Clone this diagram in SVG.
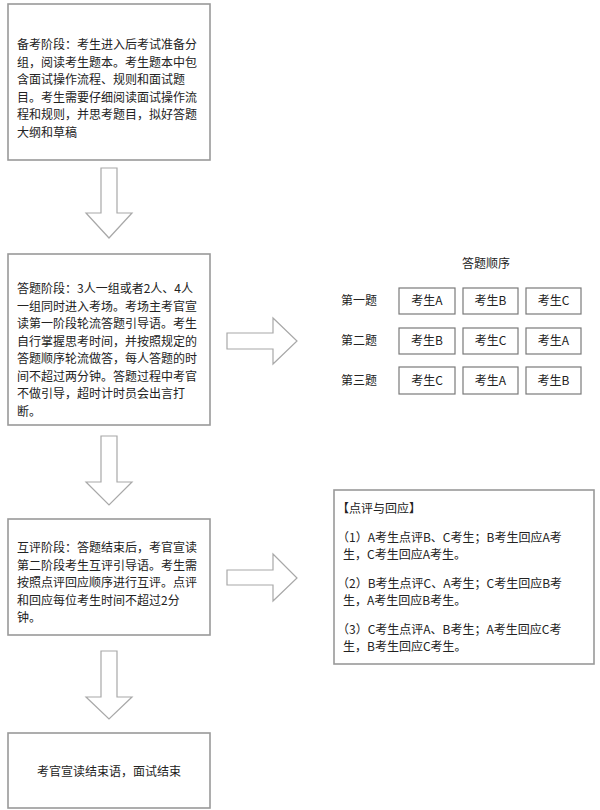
<svg xmlns="http://www.w3.org/2000/svg" width="600" height="810" viewBox="0 0 600 810">
<style>
  .box { fill: #ffffff; stroke: #999999; stroke-width: 1.6; }
  .cell { fill: #ffffff; stroke: #7a7a7a; stroke-width: 1.2; }
  .arrow { fill: #ffffff; stroke: #a8a8a8; stroke-width: 1.2; stroke-linejoin: miter; }
  text { font-family: "Noto Sans CJK SC", "Noto Sans", sans-serif; font-size: 12px; fill: #222222; text-spacing-trim: space-all; }
  .c { text-anchor: middle; }
</style>
<rect width="600" height="810" fill="#ffffff"/>

<g id="connectors">
  <polygon class="arrow" points="101,168 117,168 117,213 132,213 109,238 86,213 101,213"/>
  <polygon class="arrow" points="101,436 117,436 117,482 132,482 109,505 86,482 101,482"/>
  <polygon class="arrow" points="101,651 117,651 117,697 132,697 109,719 86,697 101,697"/>
  <polygon class="arrow" points="227,333 273,333 273,318 297,341 273,364 273,349 227,349"/>
  <polygon class="arrow" points="227,570 273,570 273,554 297,578 273,601 273,585 227,585"/>
</g>

<g id="node-prep">
  <rect class="box" x="8" y="4" width="202" height="156"/>
  <text x="17" y="49">备考阶段：考生进入后考试准备分</text>
  <text x="17" y="66.5">组，阅读考生题本。考生题本中包</text>
  <text x="17" y="84">含面试操作流程、规则和面试题</text>
  <text x="17" y="101.5">目。考生需要仔细阅读面试操作流</text>
  <text x="17" y="119">程和规则，并思考题目，拟好答题</text>
  <text x="17" y="136.5">大纲和草稿</text>
</g>

<g id="node-answer">
  <rect class="box" x="8" y="254" width="202" height="171"/>
  <text x="17" y="293">答题阶段：3人一组或者2人、4人</text>
  <text x="17" y="310.5">一组同时进入考场。考场主考官宣</text>
  <text x="17" y="328">读第一阶段轮流答题引导语。考生</text>
  <text x="17" y="345.5">自行掌握思考时间，并按照规定的</text>
  <text x="17" y="363">答题顺序轮流做答，每人答题的时</text>
  <text x="17" y="380.5">间不超过两分钟。答题过程中考官</text>
  <text x="17" y="398">不做引导，超时计时员会出言打</text>
  <text x="17" y="415.5">断。</text>
</g>

<g id="node-order">
  <text class="c" x="486" y="268">答题顺序</text>
  <text class="c" x="359" y="305">第一题</text>
  <text class="c" x="359" y="345">第二题</text>
  <text class="c" x="359" y="385">第三题</text>
  <rect class="cell" x="399" y="288" width="56" height="26"/>
  <rect class="cell" x="463" y="288" width="55" height="26"/>
  <rect class="cell" x="526" y="288" width="55" height="26"/>
  <rect class="cell" x="399" y="328" width="56" height="26"/>
  <rect class="cell" x="463" y="328" width="55" height="26"/>
  <rect class="cell" x="526" y="328" width="55" height="26"/>
  <rect class="cell" x="399" y="367" width="56" height="27"/>
  <rect class="cell" x="463" y="367" width="55" height="27"/>
  <rect class="cell" x="526" y="367" width="55" height="27"/>
  <text class="c" x="427" y="305">考生A</text>
  <text class="c" x="490.5" y="305">考生B</text>
  <text class="c" x="553.5" y="305">考生C</text>
  <text class="c" x="427" y="345">考生B</text>
  <text class="c" x="490.5" y="345">考生C</text>
  <text class="c" x="553.5" y="345">考生A</text>
  <text class="c" x="427" y="385">考生C</text>
  <text class="c" x="490.5" y="385">考生A</text>
  <text class="c" x="553.5" y="385">考生B</text>
</g>

<g id="node-review">
  <rect class="box" x="8" y="519" width="202" height="116"/>
  <text x="17" y="552">互评阶段：答题结束后，考官宣读</text>
  <text x="17" y="569.5">第二阶段考生互评引导语。考生需</text>
  <text x="17" y="587">按照点评回应顺序进行互评。点评</text>
  <text x="17" y="604.5">和回应每位考生时间不超过2分</text>
  <text x="17" y="622">钟。</text>
</g>

<g id="node-comment">
  <rect class="box" x="334" y="490" width="260" height="174"/>
  <text x="337" y="513">【点评与回应】</text>
  <text x="337" y="542">（1）A考生点评B、C考生；B考生回应A考</text>
  <text x="343" y="559">生，C考生回应A考生。</text>
  <text x="337" y="588">（2）B考生点评C、A考生；C考生回应B考</text>
  <text x="343" y="605">生，A考生回应B考生。</text>
  <text x="337" y="634">（3）C考生点评A、B考生；A考生回应C考</text>
  <text x="343" y="651">生，B考生回应C考生。</text>
</g>

<g id="node-end">
  <rect class="box" x="8" y="733" width="202" height="75"/>
  <text class="c" x="109" y="776">考官宣读结束语，面试结束</text>
</g>
</svg>
